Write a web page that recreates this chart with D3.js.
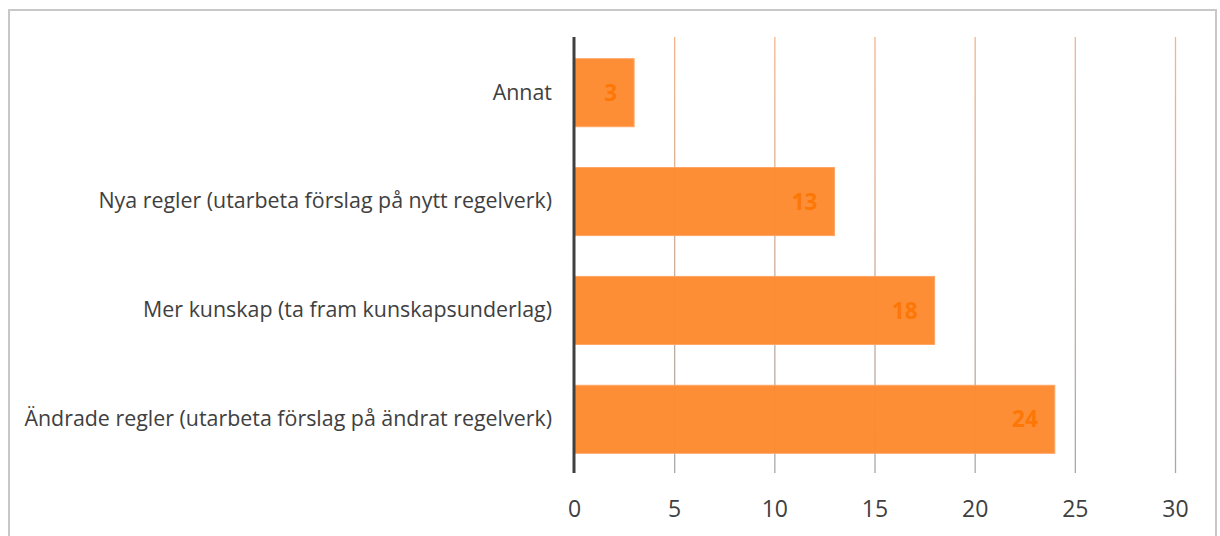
<!DOCTYPE html>
<html><head><meta charset="utf-8">
<script src="https://cdn.jsdelivr.net/npm/d3@7"></script>
<style>body{margin:0;background:#fff;}svg{display:block;font-family:"Open Sans",sans-serif;}</style>
</head><body><svg id="c" width="1220" height="536"></svg>
<script>
const categories = ["Annat","Nya regler (utarbeta förslag på nytt regelverk)","Mer kunskap (ta fram kunskapsunderlag)","Ändrade regler (utarbeta förslag på ändrat regelverk)"];
const values = [3,13,18,24];
const ticks = [0,5,10,15,20,25,30];

const svg = d3.select("#c");
svg.append("rect").attr("x",9).attr("y",10).attr("width",1207).attr("height",540)
  .attr("fill","none").attr("stroke","#c8c8c8").attr("stroke-width",2);

const x = d3.scaleLinear().domain([0,30]).range([574,1175]);
const y = d3.scaleBand().domain(categories).range([38,474]).paddingInner(0.375).paddingOuter(0.19);

const defs = svg.append("defs");
const g = defs.append("linearGradient").attr("id","gg").attr("gradientUnits","userSpaceOnUse")
  .attr("x1",0).attr("y1",37).attr("x2",0).attr("y2",472);
g.append("stop").attr("offset","0%").attr("stop-color","#f5b48a");
g.append("stop").attr("offset","100%").attr("stop-color","#a8a8a8");

svg.append("g").selectAll("line").data(ticks.slice(1)).join("line")
  .attr("x1",d=>x(d)+0.5).attr("x2",d=>x(d)+0.5).attr("y1",37).attr("y2",473)
  .attr("stroke","url(#gg)").attr("stroke-width",1.3);

svg.append("g").selectAll("rect").data(values).join("rect")
  .attr("x",x(0)).attr("y",(d,i)=>y(categories[i]))
  .attr("width",d=>x(d)-x(0)).attr("height",y.bandwidth())
  .attr("fill","#fd8a2e").attr("fill-opacity",0.97).attr("stroke","#ffa565").attr("stroke-width",1);

svg.append("g").selectAll("text").data(values).join("text")
  .attr("x",d=>x(d)-17).attr("y",(d,i)=>y(categories[i])+y.bandwidth()/2)
  .attr("dy","0.36em").attr("text-anchor","end")
  .attr("font-size",22.5).attr("font-weight","bold").attr("fill","#fc7706").text(d=>d);

svg.append("line").attr("x1",x(0)).attr("x2",x(0)).attr("y1",37).attr("y2",473)
  .attr("stroke","#404040").attr("stroke-width",3);

const xa = svg.append("g").attr("transform","translate(0,473)")
  .call(d3.axisBottom(x).tickValues(ticks).tickSize(0).tickPadding(28));
xa.select(".domain").remove();
xa.selectAll("text").attr("font-size",23).attr("fill","#404040").attr("font-family","Open Sans, sans-serif");

const ya = svg.append("g").attr("transform","translate(574,0)")
  .call(d3.axisLeft(y).tickSize(0).tickPadding(22));
ya.select(".domain").remove();
ya.selectAll("text").attr("font-size",21.4).attr("fill","#404040").attr("font-family","Open Sans, sans-serif");
</script></body></html>
